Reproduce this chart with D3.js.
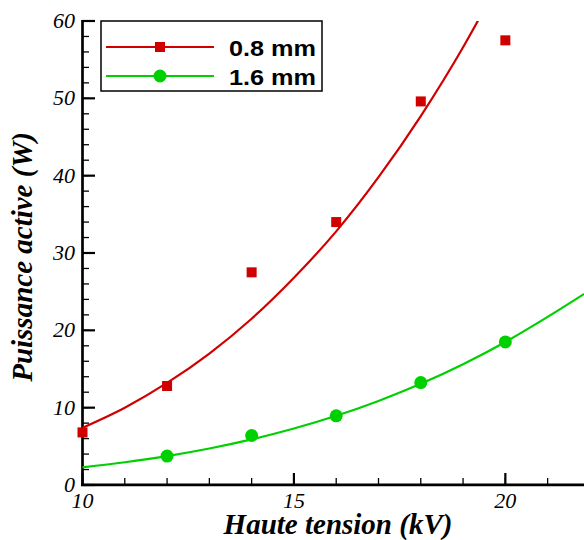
<!DOCTYPE html>
<html><head><meta charset="utf-8">
<script src="https://cdn.jsdelivr.net/npm/d3@7/dist/d3.min.js"></script>
<style>html,body{margin:0;padding:0;background:#fff;}svg{display:block;}</style>
</head><body>
<svg id="c" width="584" height="540"></svg>
<script>
const voltage08 = [10, 12, 14, 16, 18, 20];
const power08 = [6.8, 12.8, 27.5, 34.0, 49.6, 57.5];
const voltage16 = [12, 14, 16, 18, 20];
const power16 = [3.74, 6.4, 8.95, 13.25, 18.5];
// fitted trend curves
const fitX08 = [10, 11, 12, 13, 14, 15, 16, 17, 18, 19, 19.5];
const fitY08 = [7.4, 10.0, 13.2, 17.0, 21.5, 26.8, 32.8, 39.8, 47.7, 56.6, 61.5];
const fitX16 = [10, 11, 12, 13, 14, 15, 16, 17, 18, 19, 20, 21, 21.86];
const fitY16 = [2.28, 2.94, 3.74, 4.72, 5.9, 7.3, 8.95, 10.87, 13.08, 15.62, 18.5, 21.74, 24.7];
const xTicks = [10, 15, 20];
const yTicks = [0, 10, 20, 30, 40, 50, 60];
const seriesNames = ["0.8 mm", "1.6 mm"];

const red = "#d00000", green = "#00d000";
const svg = d3.select("#c");
const x = d3.scaleLinear().domain([10, 21.86]).range([82.5, 584]);
const y = d3.scaleLinear().domain([0, 60]).range([485, 21]);

svg.append("defs").append("clipPath").attr("id", "clip")
  .append("rect").attr("x", 82).attr("y", 21).attr("width", 502).attr("height", 464);

const serif = "'Liberation Serif','Times New Roman',Times,serif";

// axes
const minorY = d3.range(0, 60.01, 2);
const minorX = d3.range(10, 21.9, 1);
const gy = svg.append("g");
gy.selectAll("line.mn").data(minorY).join("line")
  .attr("x1", 82).attr("x2", 89).attr("y1", d => y(d)).attr("y2", d => y(d))
  .attr("stroke", "#000").attr("stroke-width", 1.3);
gy.selectAll("line.mj").data(yTicks).join("line")
  .attr("x1", 82).attr("x2", 95).attr("y1", d => y(d)).attr("y2", d => y(d))
  .attr("stroke", "#000").attr("stroke-width", 2.2);
gy.selectAll("text").data(yTicks).join("text")
  .attr("x", 75).attr("y", d => y(d) + 7).attr("text-anchor", "end")
  .attr("font-family", serif).attr("font-style", "italic").attr("font-size", 22)
  .text(d => d);
const gx = svg.append("g");
gx.selectAll("line.mn").data(minorX).join("line")
  .attr("y1", 485).attr("y2", 478).attr("x1", d => x(d)).attr("x2", d => x(d))
  .attr("stroke", "#000").attr("stroke-width", 1.3);
gx.selectAll("line.mj").data(xTicks).join("line")
  .attr("y1", 485).attr("y2", 473).attr("x1", d => x(d)).attr("x2", d => x(d))
  .attr("stroke", "#000").attr("stroke-width", 2.2);
gx.selectAll("text").data(xTicks).join("text")
  .attr("x", d => x(d)).attr("y", 508).attr("text-anchor", "middle")
  .attr("font-family", serif).attr("font-style", "italic").attr("font-size", 22)
  .text(d => d);
svg.append("line").attr("x1", 82.5).attr("x2", 82.5).attr("y1", 20).attr("y2", 486)
  .attr("stroke", "#000").attr("stroke-width", 2.7);
svg.append("line").attr("x1", 81).attr("x2", 584).attr("y1", 484.8).attr("y2", 484.8)
  .attr("stroke", "#000").attr("stroke-width", 2.7);

// titles
svg.append("text").attr("x", 338).attr("y", 534).attr("text-anchor", "middle")
  .attr("font-family", serif).attr("font-style", "italic").attr("font-weight", "bold")
  .attr("font-size", 29).text("Haute tension (kV)");
svg.append("text").attr("transform", "translate(32,257) rotate(-90)").attr("text-anchor", "middle")
  .attr("font-family", serif).attr("font-style", "italic").attr("font-weight", "bold")
  .attr("font-size", 29).text("Puissance active (W)");

// curves
const line = d3.line().x(d => x(d[0])).y(d => y(d[1])).curve(d3.curveMonotoneX);
const plot = svg.append("g").attr("clip-path", "url(#clip)");
plot.append("path").attr("d", line(d3.zip(fitX08, fitY08)))
  .attr("fill", "none").attr("stroke", red).attr("stroke-width", 2.2);
plot.append("path").attr("d", line(d3.zip(fitX16, fitY16)))
  .attr("fill", "none").attr("stroke", green).attr("stroke-width", 2.2);

// markers
svg.append("g").selectAll("rect").data(d3.zip(voltage08, power08)).join("rect")
  .attr("x", d => x(d[0]) - 5).attr("y", d => y(d[1]) - 5).attr("width", 10).attr("height", 10)
  .attr("fill", red);
svg.append("g").selectAll("circle").data(d3.zip(voltage16, power16)).join("circle")
  .attr("cx", d => x(d[0])).attr("cy", d => y(d[1])).attr("r", 6.5)
  .attr("fill", green);

// legend
const lg = svg.append("g");
lg.append("rect").attr("x", 101).attr("y", 21).attr("width", 221).attr("height", 70)
  .attr("fill", "#fff").attr("stroke", "#000").attr("stroke-width", 1.5);
const rows = [{name: seriesNames[0], c: red, ly: 47, sym: "sq"}, {name: seriesNames[1], c: green, ly: 76, sym: "ci"}];
rows.forEach(r => {
  lg.append("line").attr("x1", 106).attr("x2", 214).attr("y1", r.ly).attr("y2", r.ly)
    .attr("stroke", r.c).attr("stroke-width", 2.2);
  if (r.sym === "sq") lg.append("rect").attr("x", 155).attr("y", r.ly - 5).attr("width", 10).attr("height", 10).attr("fill", r.c);
  else lg.append("circle").attr("cx", 160).attr("cy", r.ly).attr("r", 6.5).attr("fill", r.c);
  lg.append("text").attr("x", 229).attr("y", r.ly + 8.5)
    .attr("font-family", "'Liberation Sans',Arial,sans-serif").attr("font-weight", "bold")
    .attr("font-size", 22).attr("textLength", 87).attr("lengthAdjust", "spacingAndGlyphs")
    .text(r.name);
});
</script>
</body></html>
